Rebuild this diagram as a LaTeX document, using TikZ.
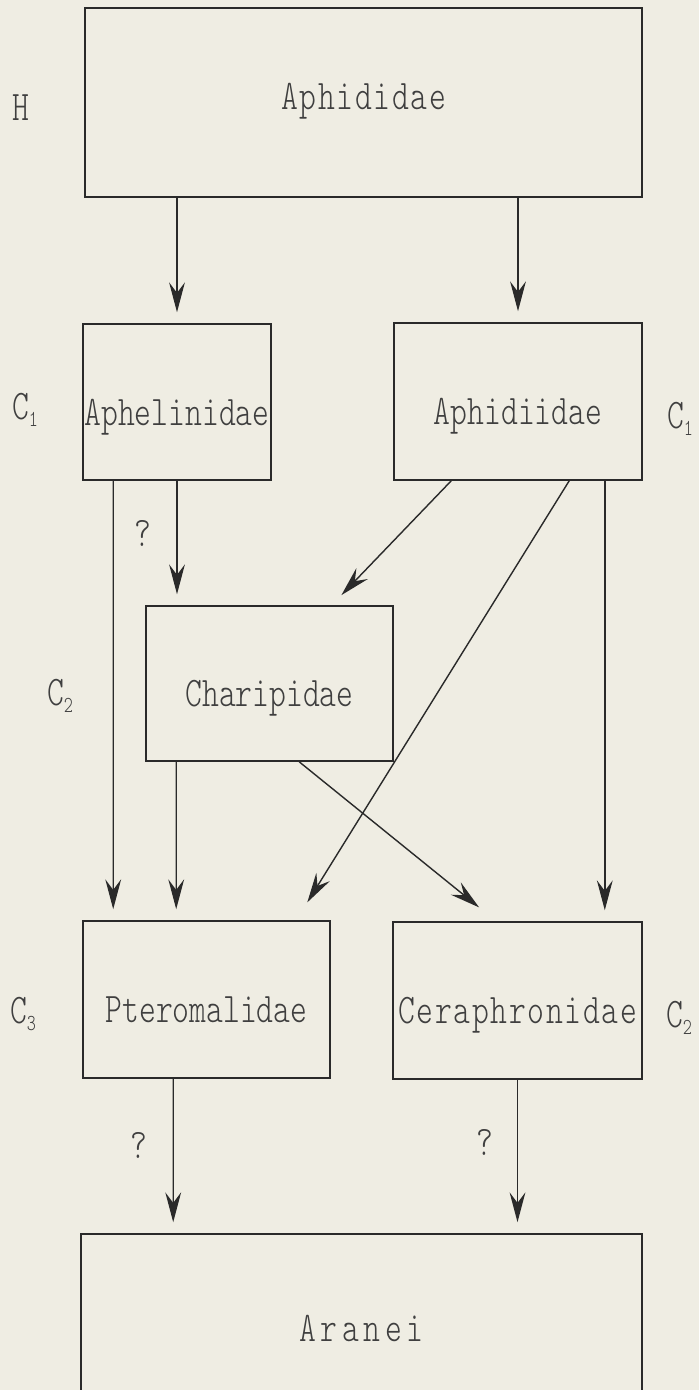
\documentclass[tikz,border=0pt]{standalone}
\usepackage{fontspec}
\newfontfamily\boxfont[FakeStretch=0.76]{lmmonolt10-regular.otf}
\newfontfamily\widefont[FakeStretch=0.76,LetterSpace=4]{lmmonolt10-regular.otf}
\newfontfamily\spacedfont[FakeStretch=0.76,LetterSpace=11]{lmmonolt10-regular.otf}
\usetikzlibrary{arrows.meta,positioning,calc}
\definecolor{paper}{HTML}{EFEDE3}
\definecolor{ink}{HTML}{2A2A2A}
\definecolor{txt}{HTML}{3F3F3F}
\newcommand\csub[1]{C\raisebox{-0.4ex}{\fontsize{13}{13}\selectfont #1}}

\begin{document}
\begin{tikzpicture}[
    box/.style={draw=ink, line width=0.9pt, inner sep=0pt, minimum width=4.94cm, minimum height=3.14cm, text=txt, font=\boxfont\fontsize{24}{28}\selectfont, text height=1cm, text depth=0.08cm},
    wide/.style={font=\widefont\fontsize{24}{28}\selectfont},
    spaced/.style={font=\spacedfont\fontsize{24}{28}\selectfont},
    lbl/.style={text=txt, font=\boxfont\fontsize{24}{28}\selectfont},
    arr/.style={draw=ink, line width=0.8pt, shorten >=0.22cm, -{Stealth[length=17pt,width=9pt,inset=6pt]}}
]
\fill[paper] (0,0) rectangle (13.98,-27.8);
\useasboundingbox (0,0) rectangle (13.98,-27.8);

% boxes
\node[box, wide, minimum width=11.14cm, minimum height=3.78cm, text height=0.5cm, text depth=0.2cm] (aphids) at (7.27,-2.05) {Aphididae};
\node[box, minimum width=3.76cm, minimum height=3.12cm] (aphel) at (3.54,-8.04) {Aphelinidae};
\node[box, minimum width=4.96cm] (aphidi) at (10.36,-8.03) {Aphidiidae};
\node[box, minimum height=3.10cm] (chari) at (5.39,-13.67) {Charipidae};
\node[box] (ptero) at (4.13,-19.99) {Pteromalidae};
\node[box, wide, minimum width=4.98cm] (cera) at (10.35,-20.01) {Ceraphronidae};
\node[box, spaced, minimum width=11.22cm, minimum height=3.36cm] (aranei) at (7.23,-26.36) {Aranei};

% levels
\node[lbl] (h) at (0.42,-2.16) {H};
\node[lbl] (c1a) at (0.5,-8.2) {\csub{1}};
\node[lbl] (c1b) at (13.6,-8.38) {\csub{1}};
\node[lbl] (c2a) at (1.2,-13.92) {\csub{2}};
\node[lbl] (c3) at (0.46,-20.28) {\csub{3}};
\node[lbl] (c2b) at (13.58,-20.36) {\csub{2}};

% links
\draw[arr] (aphel.north |- aphids.south) -- (aphel.north);
\draw[arr] (aphidi.north |- aphids.south) -- (aphidi.north);
\draw[arr] ([xshift=0.62cm]aphel.south west) -- ([xshift=0.62cm]ptero.north west);
\draw[arr] (aphel.south) -- (aphel.south |- chari.north) node[lbl, pos=0.42, left=0.38cm] (q1) {?};
\draw[arr, shorten >=0.28cm] ([xshift=1.16cm]aphidi.south west) -- ([xshift=3.73cm]chari.north west);
\draw[arr, shorten >=0.42cm] ([xshift=3.52cm]aphidi.south west) -- ([xshift=4.28cm]ptero.north west);
\draw[arr] ([xshift=-0.76cm]aphidi.south east) -- ([xshift=-0.76cm]cera.north east);
\draw[arr] ([xshift=0.62cm]chari.south west) -- ([xshift=1.88cm]ptero.north west);
\draw[arr, shorten >=0.44cm] ([xshift=3.08cm]chari.south west) -- ([xshift=2.08cm]cera.north west);
\draw[arr] ([xshift=1.82cm]ptero.south west) -- ([xshift=1.86cm]aranei.north west) node[lbl, pos=0.43, left=0.38cm] (q2) {?};
\draw[arr] (cera.south) -- (cera.south |- aranei.north) node[lbl, pos=0.41, left=0.36cm] (q3) {?};
\end{tikzpicture}
\end{document}
